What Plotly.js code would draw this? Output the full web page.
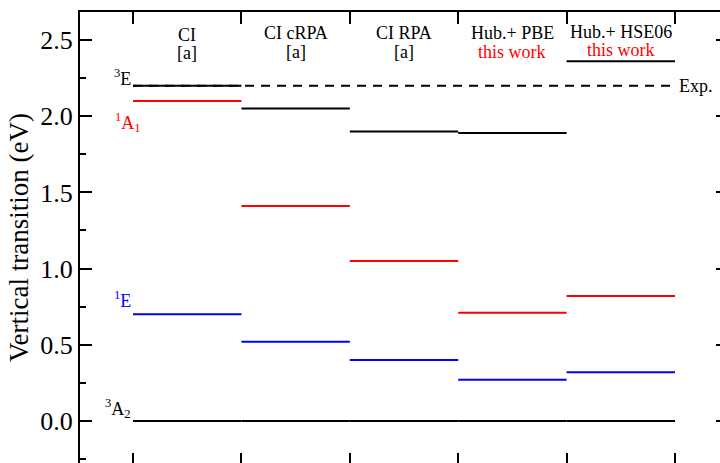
<!DOCTYPE html>
<html>
<head>
<meta charset="utf-8">
<script src="https://cdn.plot.ly/plotly-3.0.1.min.js"></script>
<style>html,body{margin:0;padding:0;background:#fff;}</style>
</head>
<body>
<div id="chart" style="width:720px;height:463px;"></div>
<script>
// ---- data ----
const methods = ["CI", "CI cRPA", "CI RPA", "Hub.+ PBE", "Hub.+ HSE06"];
const sources = ["[a]", "[a]", "[a]", "this work", "this work"];
const E3  = [2.20, 2.05, 1.90, 1.89, 2.36];   // 3E
const A11 = [2.10, 1.41, 1.05, 0.71, 0.82];   // 1A1
const E1  = [0.70, 0.52, 0.40, 0.27, 0.32];   // 1E
const A32 = [0.00, 0.00, 0.00, 0.00, 0.00];   // 3A2
const expValue = 2.20;
const yTicks = [0, 0.5, 1.0, 1.5, 2.0, 2.5];

const FONT = "Liberation Serif";

function levelTrace(vals, color) {
  const xs = [], ys = [];
  vals.forEach((v, i) => { xs.push(i, i + 1, null); ys.push(v, v, null); });
  return {x: xs, y: ys, mode: "lines", type: "scatter",
          line: {color: color, width: 2}, hoverinfo: "skip", connectgaps: false};
}

const traces = [
  {x: [0, methods.length], y: [expValue, expValue], mode: "lines", type: "scatter",
   line: {color: "#000", width: 2, dash: "9px,7px"}, hoverinfo: "skip"},
  levelTrace(E3, "#000000"),
  levelTrace(A11, "#ff0000"),
  levelTrace(E1, "#0000ff"),
  levelTrace(A32, "#000000"),
  {x: [0], y: [0], xaxis: "x2", yaxis: "y2", mode: "markers",
   marker: {opacity: 0}, hoverinfo: "skip"}
];

const xRange = [-0.489, 5.415];
const yRange = [-0.276, 2.684];
const H = 463, T = 12, B = 0;
const plotH = H - T - B;
function py(p) { return (H - B - p) / plotH; } // pixel -> paper y

const annotations = [];
const line1Px = [35, 33, 33, 33, 32];
const line2Px = [53, 52, 52, 52, 50];
methods.forEach((m, i) => {
  annotations.push({x: i + 0.5, xref: "x", y: py(line1Px[i]), yref: "paper",
    text: m, showarrow: false, xanchor: "center", yanchor: "middle",
    font: {family: FONT, size: 18, color: "#000"}});
  annotations.push({x: i + 0.5, xref: "x", y: py(line2Px[i]), yref: "paper",
    text: sources[i], showarrow: false, xanchor: "center", yanchor: "middle",
    font: {family: FONT, size: 18, color: sources[i] === "this work" ? "#ff0000" : "#000"}});
});

const stateLabels = [
  {text: "<sup>3</sup>E", y: E3[0], yanchor: "bottom", yshift: -5, xshift: 0, color: "#000"},
  {text: "<sup>1</sup>A<sub>1</sub>", y: A11[0], yanchor: "top", yshift: -7, xshift: 10, color: "#ff0000"},
  {text: "<sup>1</sup>E", y: E1[0], yanchor: "bottom", yshift: 1, xshift: 0, color: "#0000ff"},
  {text: "<sup>3</sup>A<sub>2</sub>", y: A32[0], yanchor: "bottom", yshift: -2, xshift: 0, color: "#000"}
];
stateLabels.forEach(s => {
  annotations.push({x: 0, xref: "x", y: s.y, yref: "y", text: s.text, showarrow: false,
    xanchor: "right", yanchor: s.yanchor, xshift: s.xshift, yshift: s.yshift,
    font: {family: FONT, size: 18, color: s.color}});
});
annotations.push({x: methods.length, xref: "x", y: expValue, yref: "y", text: "Exp.",
  showarrow: false, xanchor: "left", yanchor: "middle", xshift: 2,
  font: {family: FONT, size: 18, color: "#000"}});

const boundaries = methods.map((_, i) => i).concat([methods.length]);

const layout = {
  width: 720, height: 463,
  margin: {l: 80, r: 0, t: T, b: B, pad: 0},
  paper_bgcolor: "#fff", plot_bgcolor: "#fff",
  showlegend: false,
  font: {family: FONT, color: "#000"},
  xaxis: {range: xRange, tickvals: boundaries, ticks: "inside", ticklen: 10, tickwidth: 2,
          tickcolor: "#000", showticklabels: false, showline: false, showgrid: false, zeroline: false},
  xaxis2: {range: xRange, overlaying: "x", side: "top", tickvals: boundaries, ticks: "inside",
           ticklen: 12, tickwidth: 2, tickcolor: "#000", showticklabels: false, showline: true,
           linewidth: 2, linecolor: "#000", showgrid: false, zeroline: false},
  yaxis: {range: yRange, tickvals: yTicks, tickformat: ".1f", ticks: "inside", ticklen: 12,
          tickwidth: 2, tickcolor: "#000", showline: true, linewidth: 2, linecolor: "#000",
          showgrid: false, zeroline: false, tickfont: {family: FONT, size: 26, color: "#000"},
          minor: {dtick: 0.25, tick0: 0, ticks: "inside", ticklen: 6, tickwidth: 2, tickcolor: "#000", showgrid: false},
          title: {text: "Vertical transition (eV)", font: {family: FONT, size: 27, color: "#000"}, standoff: 4}},
  yaxis2: {range: yRange, overlaying: "y", side: "right", tickvals: yTicks, ticks: "inside",
           ticklen: 4, tickwidth: 2, tickcolor: "#000", showticklabels: false, showline: false,
           showgrid: false, zeroline: false},
  annotations: annotations
};

Plotly.newPlot("chart", traces, layout, {displayModeBar: false, staticPlot: true});
</script>
</body>
</html>
